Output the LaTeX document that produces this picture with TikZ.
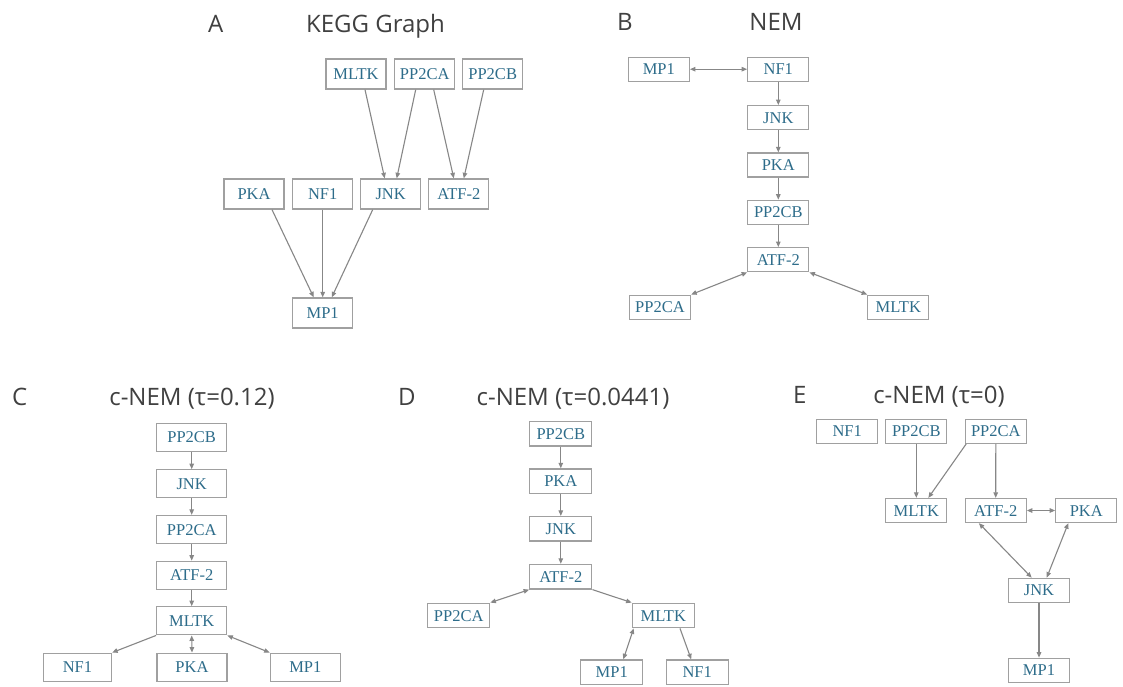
\documentclass[tikz,border=0pt]{standalone}
\usepackage{fontspec}
\usetikzlibrary{arrows.meta}
\newfontfamily\titlefont{Open Sans}
\newfontfamily\genefont{Liberation Serif}
\definecolor{genetext}{RGB}{45,108,138}
\definecolor{boxline}{RGB}{160,160,160}
\definecolor{edgeline}{RGB}{135,135,135}
\definecolor{titletext}{RGB}{64,64,64}
\tikzset{
  gene/.style={draw=boxline, line width=1.3pt, fill=white, text=genetext,
    font=\genefont\fontsize{16.5}{18}\selectfont, inner sep=0pt,
    text height=11pt, text depth=0pt, rectangle},
  panA/.style={gene, minimum width=60pt, minimum height=30pt},
  panB/.style={gene, minimum width=61pt, minimum height=24pt},
  panC/.style={gene, minimum width=70pt, minimum height=28pt},
  panD/.style={gene, minimum width=62pt, minimum height=24.5pt},
  panE/.style={gene, minimum width=61pt, minimum height=24pt},
  link/.style={draw=edgeline, line width=1.1pt,
    -{Triangle[length=5.5pt,width=4.5pt]}},
  blink/.style={draw=edgeline, line width=1.1pt,
    {Triangle[length=5.5pt,width=4.5pt]}-{Triangle[length=5.5pt,width=4.5pt]}},
  ttl/.style={text=titletext, font=\titlefont\fontsize{24}{28}\selectfont,
    inner sep=0pt, anchor=base},
  tag/.style={ttl, anchor=base west}
}
\begin{document}
\begin{tikzpicture}[x=1pt, y=-1pt]
\useasboundingbox[fill=white] (0,0) rectangle (1123,686);

% ---------- Panel A: KEGG graph ----------
\node[tag] (tA) at (208,32) {A};
\node[ttl] (hA) at (375.5,32) {KEGG Graph};
\node[panA] (aMLTK) at (356,74) {MLTK};
\node[panA] (aPPCA) at (424.7,74) {PP2CA};
\node[panA] (aPPCB) at (492.7,74) {PP2CB};
\node[panA] (aPKA) at (254,194) {PKA};
\node[panA] (aNF) at (322.7,194) {NF1};
\node[panA] (aJNK) at (390.7,194) {JNK};
\node[panA] (aATF) at (458.8,194) {ATF-2};
\node[panA] (aMP) at (322.7,313) {MP1};
\draw[link] ([xshift=9pt]aMLTK.south) -- ([xshift=-6pt]aJNK.north);
\draw[link] ([xshift=-9pt]aPPCA.south) -- ([xshift=6pt]aJNK.north);
\draw[link] ([xshift=9pt]aPPCA.south) -- ([xshift=-5pt]aATF.north);
\draw[link] ([xshift=-9pt]aPPCB.south) -- ([xshift=5pt]aATF.north);
\draw[link] ([xshift=18pt]aPKA.south) -- ([xshift=-9pt]aMP.north);
\draw[link] (aNF.south) -- (aMP.north);
\draw[link] ([xshift=-18pt]aJNK.south) -- ([xshift=9pt]aMP.north);

% ---------- Panel B: NEM ----------
\node[tag] (tB) at (617,30) {B};
\node[ttl] (hB) at (776,30) {NEM};
\node[panB] (bMP) at (658.8,69.2) {MP1};
\node[panB] (bNF) at (778.3,69.2) {NF1};
\node[panB] (bJNK) at (778.3,117.7) {JNK};
\node[panB] (bPKA) at (778.3,165) {PKA};
\node[panB] (bPPCB) at (778.3,212.3) {PP2CB};
\node[panB] (bATF) at (778.3,259.7) {ATF-2};
\node[panB] (bPPCA) at (660,307.2) {PP2CA};
\node[panB] (bMLTK) at (898.3,307.2) {MLTK};
\draw[blink] (bMP.east) -- (bNF.west);
\draw[link] (bNF.south) -- (bJNK.north);
\draw[link] (bJNK.south) -- (bPKA.north);
\draw[link] (bPKA.south) -- (bPPCB.north);
\draw[link] (bPPCB.south) -- (bATF.north);
\draw[blink] (bATF.south west) -- (bPPCA.north east);
\draw[blink] (bATF.south east) -- (bMLTK.north west);

% ---------- Panel C: c-NEM, tau = 0.12 ----------
\node[tag] (tC) at (12,405) {C};
\node[ttl] (hC) at (192,405) {c-NEM (τ=0.12)};
\node[panC] (cPPCB) at (191.7,437.2) {PP2CB};
\node[panC] (cJNK) at (191.7,483.8) {JNK};
\node[panC] (cPPCA) at (191.7,529.5) {PP2CA};
\node[panC] (cATF) at (191.7,575.3) {ATF-2};
\node[panC] (cMLTK) at (191.7,620.8) {MLTK};
\node[panC, minimum width=68pt] (cNF) at (77.5,667.2) {NF1};
\node[panC] (cPKA) at (192,667.2) {PKA};
\node[panC] (cMP) at (305.3,667.2) {MP1};
\draw[link] (cPPCB.south) -- (cJNK.north);
\draw[link] (cJNK.south) -- (cPPCA.north);
\draw[link] (cPPCA.south) -- (cATF.north);
\draw[link] (cATF.south) -- (cMLTK.north);
\draw[link] (cMLTK.south west) -- (cNF.north east);
\draw[blink] (cMLTK.south) -- (cPKA.north);
\draw[blink] (cMLTK.south east) -- (cMP.north west);

% ---------- Panel D: c-NEM, tau = 0.0441 ----------
\node[tag] (tD) at (398,405) {D};
\node[ttl] (hD) at (573,405) {c-NEM (τ=0.0441)};
\node[panD] (dPPCB) at (560.8,433.8) {PP2CB};
\node[panD] (dPKA) at (560.8,481.2) {PKA};
\node[panD] (dJNK) at (560.8,528.8) {JNK};
\node[panD] (dATF) at (560.8,576.7) {ATF-2};
\node[panD] (dPPCA) at (458.7,615.5) {PP2CA};
\node[panD] (dMLTK) at (663.3,615.5) {MLTK};
\node[panD] (dMP) at (611.7,672.2) {MP1};
\node[panD] (dNF) at (697.2,672.2) {NF1};
\draw[link] (dPPCB.south) -- (dPKA.north);
\draw[link] (dPKA.south) -- (dJNK.north);
\draw[link] (dJNK.south) -- (dATF.north);
\draw[blink] (dATF.south west) -- (dPPCA.north east);
\draw[link] (dATF.south east) -- (dMLTK.north west);
\draw[blink] ([xshift=2pt]dMLTK.south west) -- ([xshift=11.6pt]dMP.north);
\draw[link] ([xshift=16.7pt]dMLTK.south) -- ([xshift=-6pt]dNF.north);

% ---------- Panel E: c-NEM, tau = 0 ----------
\node[tag] (tE) at (793,403) {E};
\node[ttl] (hE) at (939,403) {c-NEM (τ=0)};
\node[panE] (eNF) at (847.2,431.3) {NF1};
\node[panE] (ePPCB) at (916.3,431.3) {PP2CB};
\node[panE] (ePPCA) at (995.8,431.3) {PP2CA};
\node[panE] (eMLTK) at (916.3,510.5) {MLTK};
\node[panE] (eATF) at (995.7,510.5) {ATF-2};
\node[panE] (ePKA) at (1086.3,510.5) {PKA};
\node[panE] (eJNK) at (1039,590.3) {JNK};
\node[panE] (eMP) at (1039,670.3) {MP1};
\draw[link] (ePPCB.south) -- (eMLTK.north);
\draw[link] ([xshift=1.5pt]ePPCA.south west) -- ([xshift=12pt]eMLTK.north);
\draw[link] (ePPCA.south) -- (eATF.north);
\draw[blink] (eATF.east) -- (ePKA.west);
\draw[blink] ([xshift=14.3pt]eATF.south west) -- ([xshift=-7.3pt]eJNK.north);
\draw[blink] ([xshift=-18pt]ePKA.south) -- ([xshift=7.7pt]eJNK.north);
\draw[link] (eJNK.south) -- (eMP.north);
\end{tikzpicture}
\end{document}
